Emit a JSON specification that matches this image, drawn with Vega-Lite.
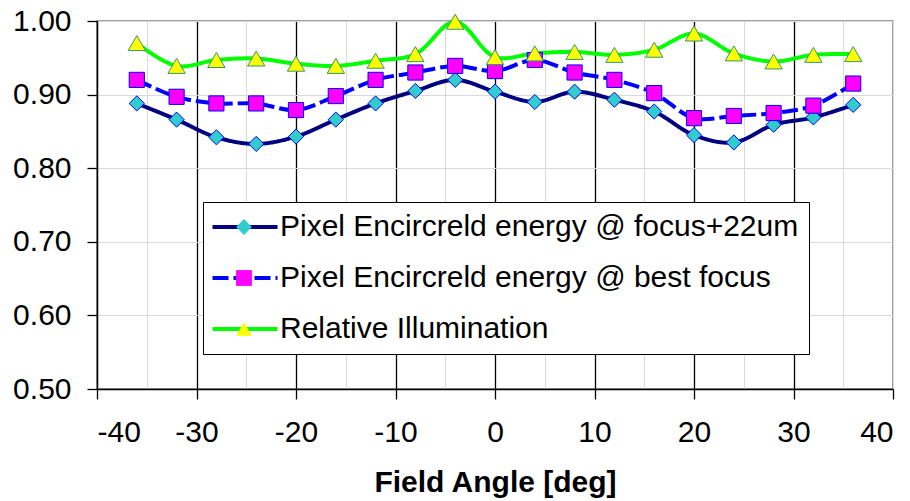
{
  "$schema": "https://vega.github.io/schema/vega-lite/v6.json",
  "width": 796,
  "height": 368,
  "autosize": {"type": "none"},
  "padding": {"left": 97, "top": 21, "right": 17, "bottom": 112},
  "data": {
    "values": [
      {"angle": -36, "series": "Pixel Encircreld energy @ focus+22um", "value": 0.888},
      {"angle": -32, "series": "Pixel Encircreld energy @ focus+22um", "value": 0.866},
      {"angle": -28, "series": "Pixel Encircreld energy @ focus+22um", "value": 0.842},
      {"angle": -24, "series": "Pixel Encircreld energy @ focus+22um", "value": 0.833},
      {"angle": -20, "series": "Pixel Encircreld energy @ focus+22um", "value": 0.843},
      {"angle": -16, "series": "Pixel Encircreld energy @ focus+22um", "value": 0.866},
      {"angle": -12, "series": "Pixel Encircreld energy @ focus+22um", "value": 0.888},
      {"angle": -8, "series": "Pixel Encircreld energy @ focus+22um", "value": 0.905},
      {"angle": -4, "series": "Pixel Encircreld energy @ focus+22um", "value": 0.920},
      {"angle": 0, "series": "Pixel Encircreld energy @ focus+22um", "value": 0.904},
      {"angle": 4, "series": "Pixel Encircreld energy @ focus+22um", "value": 0.890},
      {"angle": 8, "series": "Pixel Encircreld energy @ focus+22um", "value": 0.904},
      {"angle": 12, "series": "Pixel Encircreld energy @ focus+22um", "value": 0.893},
      {"angle": 16, "series": "Pixel Encircreld energy @ focus+22um", "value": 0.877},
      {"angle": 20, "series": "Pixel Encircreld energy @ focus+22um", "value": 0.845},
      {"angle": 24, "series": "Pixel Encircreld energy @ focus+22um", "value": 0.835},
      {"angle": 28, "series": "Pixel Encircreld energy @ focus+22um", "value": 0.859},
      {"angle": 32, "series": "Pixel Encircreld energy @ focus+22um", "value": 0.869},
      {"angle": 36, "series": "Pixel Encircreld energy @ focus+22um", "value": 0.886},
      {"angle": -36, "series": "Pixel Encircreld energy @ best focus", "value": 0.920},
      {"angle": -32, "series": "Pixel Encircreld energy @ best focus", "value": 0.897},
      {"angle": -28, "series": "Pixel Encircreld energy @ best focus", "value": 0.888},
      {"angle": -24, "series": "Pixel Encircreld energy @ best focus", "value": 0.888},
      {"angle": -20, "series": "Pixel Encircreld energy @ best focus", "value": 0.879},
      {"angle": -16, "series": "Pixel Encircreld energy @ best focus", "value": 0.898},
      {"angle": -12, "series": "Pixel Encircreld energy @ best focus", "value": 0.920},
      {"angle": -8, "series": "Pixel Encircreld energy @ best focus", "value": 0.930},
      {"angle": -4, "series": "Pixel Encircreld energy @ best focus", "value": 0.939},
      {"angle": 0, "series": "Pixel Encircreld energy @ best focus", "value": 0.932},
      {"angle": 4, "series": "Pixel Encircreld energy @ best focus", "value": 0.947},
      {"angle": 8, "series": "Pixel Encircreld energy @ best focus", "value": 0.930},
      {"angle": 12, "series": "Pixel Encircreld energy @ best focus", "value": 0.920},
      {"angle": 16, "series": "Pixel Encircreld energy @ best focus", "value": 0.902},
      {"angle": 20, "series": "Pixel Encircreld energy @ best focus", "value": 0.868},
      {"angle": 24, "series": "Pixel Encircreld energy @ best focus", "value": 0.871},
      {"angle": 28, "series": "Pixel Encircreld energy @ best focus", "value": 0.875},
      {"angle": 32, "series": "Pixel Encircreld energy @ best focus", "value": 0.885},
      {"angle": 36, "series": "Pixel Encircreld energy @ best focus", "value": 0.915},
      {"angle": -36, "series": "Relative Illumination", "value": 0.970},
      {"angle": -32, "series": "Relative Illumination", "value": 0.939},
      {"angle": -28, "series": "Relative Illumination", "value": 0.947},
      {"angle": -24, "series": "Relative Illumination", "value": 0.949},
      {"angle": -20, "series": "Relative Illumination", "value": 0.942},
      {"angle": -16, "series": "Relative Illumination", "value": 0.939},
      {"angle": -12, "series": "Relative Illumination", "value": 0.946},
      {"angle": -8, "series": "Relative Illumination", "value": 0.955},
      {"angle": -4, "series": "Relative Illumination", "value": 0.999},
      {"angle": 0, "series": "Relative Illumination", "value": 0.951},
      {"angle": 4, "series": "Relative Illumination", "value": 0.956},
      {"angle": 8, "series": "Relative Illumination", "value": 0.958},
      {"angle": 12, "series": "Relative Illumination", "value": 0.954},
      {"angle": 16, "series": "Relative Illumination", "value": 0.961},
      {"angle": 20, "series": "Relative Illumination", "value": 0.983},
      {"angle": 24, "series": "Relative Illumination", "value": 0.956},
      {"angle": 28, "series": "Relative Illumination", "value": 0.945},
      {"angle": 32, "series": "Relative Illumination", "value": 0.954},
      {"angle": 36, "series": "Relative Illumination", "value": 0.955}
    ]
  },
  "encoding": {
    "x": {
      "field": "angle",
      "type": "quantitative",
      "scale": {"domain": [-40, 40], "nice": false, "zero": false},
      "axis": {
        "title": "Field Angle [deg]",
        "values": [-40, -35, -30, -25, -20, -15, -10, -5, 0, 5, 10, 15, 20, 25, 30, 35, 40],
        "labelExpr": "datum.value % 10 === 0 ? '' + datum.value : ''",
        "gridColor": {"condition": {"test": "datum.value % 10 === 0 && abs(datum.value) < 40", "value": "#000000"}, "value": "#d9d9d9"},
        "gridWidth": {"condition": {"test": "datum.value % 10 === 0 && abs(datum.value) < 40", "value": 1.3}, "value": 1},
        "tickColor": {"condition": {"test": "datum.value % 10 === 0", "value": "#000000"}, "value": "transparent"},
        "labelPadding": 18,
        "titlePadding": 20
      }
    },
    "y": {
      "field": "value",
      "type": "quantitative",
      "scale": {"domain": [0.5, 1.0], "nice": false, "zero": false},
      "axis": {
        "title": null,
        "values": [0.5, 0.6, 0.7, 0.8, 0.9, 1.0],
        "format": ".2f",
        "gridColor": "#d9d9d9",
        "labelPadding": 16
      }
    }
  },
  "layer": [
    {
      "mark": {"type": "line", "interpolate": "catmull-rom", "strokeWidth": 4},
      "encoding": {
        "stroke": {
          "field": "series",
          "type": "nominal",
          "scale": {
            "domain": ["Pixel Encircreld energy @ focus+22um", "Pixel Encircreld energy @ best focus", "Relative Illumination"],
            "range": ["#000080", "#0000FF", "#00FF00"]
          },
          "legend": {
            "orient": "none",
            "legendX": 106,
            "legendY": 181,
            "zindex": 1,
            "fillColor": "#ffffff",
            "strokeColor": "#000000",
            "symbolType": "M-3.25,0L3.25,0",
            "symbolSize": 400,
            "symbolStrokeWidth": 4,
            "symbolOffset": 17,
            "labelOffset": 20
          }
        },
        "strokeDash": {
          "field": "series",
          "type": "nominal",
          "scale": {
            "domain": ["Pixel Encircreld energy @ focus+22um", "Pixel Encircreld energy @ best focus", "Relative Illumination"],
            "range": [[1, 0], [16, 5], [1, 0]]
          },
          "legend": {
            "orient": "none",
            "legendX": 106,
            "legendY": 181,
            "zindex": 1,
            "fillColor": "#ffffff",
            "strokeColor": "#000000",
            "symbolType": "M-3.25,0L3.25,0",
            "symbolSize": 400,
            "symbolStrokeWidth": 4,
            "symbolOffset": 17,
            "labelOffset": 20
          }
        }
      }
    },
    {
      "mark": {"type": "point", "filled": true, "strokeWidth": 1, "opacity": 1},
      "encoding": {
        "fill": {
          "field": "series",
          "type": "nominal",
          "scale": {
            "domain": ["Pixel Encircreld energy @ focus+22um", "Pixel Encircreld energy @ best focus", "Relative Illumination", "-"],
            "range": ["#33CCCC", "#FF00FF", "#FFFF00", "#ffffff"]
          },
          "legend": {
            "orient": "none",
            "legendX": 106,
            "legendY": 181,
            "zindex": 2,
            "values": ["Pixel Encircreld energy @ focus+22um", "Pixel Encircreld energy @ best focus", "Relative Illumination"],
            "symbolSize": 250,
            "symbolOffset": 16,
            "symbolStrokeColor": "#0000FF",
            "symbolStrokeWidth": 1,
            "labelExpr": "''"
          }
        },
        "shape": {
          "field": "series",
          "type": "nominal",
          "scale": {
            "domain": ["Pixel Encircreld energy @ focus+22um", "Pixel Encircreld energy @ best focus", "Relative Illumination", "-"],
            "range": ["diamond", "square", "triangle-up", "circle"]
          },
          "legend": {
            "orient": "none",
            "legendX": 106,
            "legendY": 181,
            "zindex": 2,
            "values": ["Pixel Encircreld energy @ focus+22um", "Pixel Encircreld energy @ best focus", "Relative Illumination"],
            "symbolSize": 250,
            "symbolOffset": 16,
            "symbolStrokeColor": "#0000FF",
            "symbolStrokeWidth": 1,
            "labelExpr": "''"
          }
        },
        "size": {
          "condition": {"test": "datum.series === 'Relative Illumination'", "value": 300},
          "value": 230
        },
        "stroke": {
          "condition": {"test": "datum.series === 'Relative Illumination'", "value": "#339966"},
          "value": "#0000FF"
        }
      }
    }
  ],
  "config": {
    "font": "Liberation Sans",
    "view": {"stroke": "#808080", "strokeWidth": 1.5},
    "axis": {
      "labelFont": "Liberation Sans",
      "labelFontSize": 30,
      "labelColor": "#000000",
      "titleFont": "Liberation Sans",
      "titleFontSize": 30,
      "titleFontWeight": "bold",
      "titleColor": "#000000",
      "domainColor": "#000000",
      "domainWidth": 1.5,
      "tickSize": 10,
      "tickWidth": 1.3,
      "tickColor": "#000000",
      "gridWidth": 1
    },
    "legend": {
      "title": null,
      "labelFont": "Liberation Sans",
      "labelFontSize": 30,
      "labelColor": "#000000",
      "labelLimit": 1000,
      "padding": 10,
      "rowPadding": 21
    }
  }
}
